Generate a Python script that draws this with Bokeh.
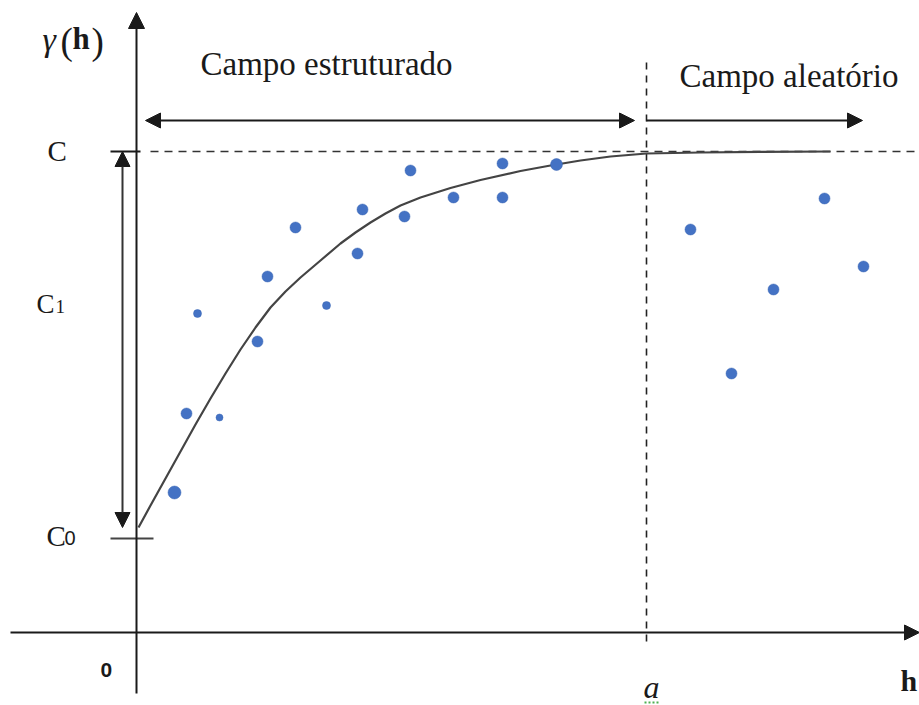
from bokeh.plotting import figure
from bokeh.models import Range1d, Arrow, NormalHead
from bokeh.core.properties import value
from bokeh.embed import file_html
from bokeh.resources import INLINE

# ---- data (plot units: origin at axes crossing, 1 unit = 1 screen px) ----
# experimental variogram points gamma(h)
pts_h = [38, 50, 61, 83, 121, 131, 159, 190, 221, 226, 268, 274, 317, 366, 366, 420,
         554, 595, 637, 688, 727]
pts_g = [140, 219, 319, 215, 291, 356, 405, 327, 379, 423, 416, 462, 435, 469, 435, 468,
         403, 259, 343, 434, 366]
# fitted model curve
curve_h = [2, 14, 29, 44, 59, 74, 89, 104, 119, 134, 149, 164, 184, 204, 219, 234, 249,
           264, 284, 314, 344, 384, 414, 444, 474, 510, 564, 624, 694]
curve_g = [105, 127, 154, 181, 208, 234, 259, 283, 305, 325, 341, 355, 372, 389, 400,
           410, 419, 427, 435, 444.5, 452.5, 461.5, 467, 472, 476, 479, 480, 480.7, 481]
# key levels
C0 = 94      # nugget
C = 481      # sill
A = 510      # range a

# marker diameters (style)
dot_px = [13, 11, 8, 7, 11, 11, 11, 8, 11, 11, 11, 11, 11, 11, 11, 12,
          11, 11, 11, 11, 11]

W, H = 919, 705
OX, OY = 136, 632


def X(px):
    return px - OX


def Y(py):
    return OY - py


p = figure(width=W, height=H, output_backend="svg", toolbar_location=None,
           x_range=Range1d(X(0), X(W)), y_range=Range1d(Y(H), Y(0)),
           min_border=0, outline_line_color=None)
p.axis.visible = False
p.grid.visible = False
p.background_fill_color = "white"
p.border_fill_color = "white"

ink = "#1a1a1a"
serif = "Liberation Serif, Times New Roman, Times, serif"
sans = "Liberation Sans, Arial, sans-serif"

# axes with arrow heads
p.add_layout(Arrow(end=NormalHead(size=15, fill_color=ink, line_color=ink),
                   x_start=X(10), y_start=0, x_end=X(919), y_end=0,
                   line_color=ink, line_width=2))
p.add_layout(Arrow(end=NormalHead(size=16, fill_color=ink, line_color=ink),
                   x_start=0, y_start=Y(693), x_end=0, y_end=Y(12),
                   line_color=ink, line_width=2))

# sill dashed line and range dashed line
p.line([X(150), X(919)], [C, C], line_color="#333333", line_width=1.6, line_dash="8 6")
p.line([A, A], [Y(62), Y(645)], line_color="#222222", line_width=1.6, line_dash="7 6")

# tick marks at C and C0
p.line([X(110), X(140)], [C, C], line_color=ink, line_width=2)
p.line([X(110), X(153)], [C0, C0], line_color="#444444", line_width=2)

# C1 double arrow
p.add_layout(Arrow(start=NormalHead(size=15, fill_color=ink, line_color=ink),
                   end=NormalHead(size=15, fill_color=ink, line_color=ink),
                   x_start=X(122), y_start=Y(527), x_end=X(122), y_end=C,
                   line_color="#333333", line_width=2))

# field arrows
p.add_layout(Arrow(start=NormalHead(size=15, fill_color=ink, line_color=ink),
                   end=NormalHead(size=15, fill_color=ink, line_color=ink),
                   x_start=X(145), y_start=Y(120), x_end=X(634), y_end=Y(120),
                   line_color=ink, line_width=2))
p.add_layout(Arrow(end=NormalHead(size=15, fill_color=ink, line_color=ink),
                   x_start=A, y_start=Y(120), x_end=X(862), y_end=Y(120),
                   line_color=ink, line_width=2))

# model curve
p.line(curve_h, curve_g, line_color="#444444", line_width=2.2, line_join="round")

# experimental points
p.scatter(pts_h, pts_g, size=dot_px, fill_color="#4472C4", line_color="#3b66b5",
          line_width=0.5)

# ---- texts ----
FIX = 10  # baseline correction (px)


def txt(x, yb, s, size, style="normal", font=serif, align="left", color=ink):
    p.text([X(x)], [Y(yb - FIX)], text=[s], text_font=value(font),
           text_font_size=f"{size}px", text_font_style=style, text_align=align,
           text_baseline="alphabetic", text_color=color)


txt(42, 49, "\u03b3", 34, "italic")
txt(60, 51, "(", 37)
txt(72, 48, "h", 31, "bold")
txt(91, 51, ")", 37)

txt(200, 73, "Campo estruturado", 33)
txt(679, 85, "Campo aleat\u00f3rio", 33)

txt(47, 160, "C", 29)
txt(36, 313, "C", 27)
txt(55, 316, "1", 19)
txt(46, 545, "C", 29)
txt(64, 547, "0", 20, font=sans)

txt(100, 679, "0", 21, "bold", font=sans)
txt(651, 696, "a", 32, "italic", align="center")
p.line([X(644), X(660)], [Y(702), Y(702)], line_color="#4caf50", line_width=2,
       line_dash="2 2")
txt(900, 690, "h", 30, "bold")

open("out.html", "w").write(file_html(p, INLINE))
